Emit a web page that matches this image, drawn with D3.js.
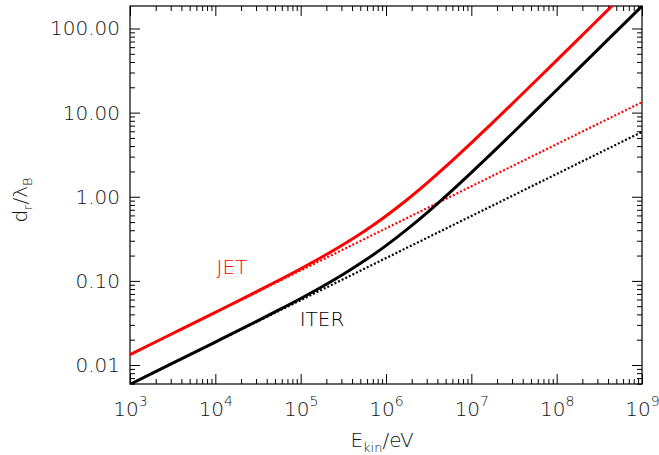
<!DOCTYPE html>
<html><head><meta charset="utf-8">
<script src="https://cdn.jsdelivr.net/npm/d3@7"></script>
<style>
html,body{margin:0;padding:0;background:#fff;}
text{font-family:"DejaVu Sans","Liberation Sans",sans-serif;font-weight:200;}
</style></head>
<body><svg id="c" width="659" height="455"></svg>
<script>
// Kinetic energy grid (eV)
const energy = [1e3, 3.162e3, 1e4, 3.162e4, 5.623e4, 1e5, 1.778e5, 3.162e5, 5.623e5, 1e6, 1.778e6, 3.162e6, 5.623e6, 1e7, 1.778e7, 3.162e7, 5.623e7, 1e8, 1.778e8, 3.162e8, 5.623e8, 1e9];
const jetSolid  = [0.01331, 0.02369, 0.04227, 0.07593, 0.1024, 0.1394, 0.1922, 0.2707, 0.3926, 0.5916, 0.9283, 1.514, 2.543, 4.368, 7.609, 13.37, 23.61, 41.82, 74.2, 131.8, 234.2, 416.3];
const iterSolid = [0.00590, 0.01051, 0.01875, 0.03368, 0.04545, 0.06182, 0.08528, 0.1200, 0.1742, 0.2624, 0.4118, 0.6713, 1.128, 1.938, 3.375, 5.929, 10.47, 18.55, 32.92, 58.46, 103.9, 184.7];
// Non-relativistic (dotted) curves
const energyDot = [1e3, 1e4, 1e5, 1e6, 1e7, 1e8, 1e9];
const jetDotted  = [0.0133, 0.0421, 0.133, 0.421, 1.33, 4.21, 13.3];
const iterDotted = [0.0059, 0.01866, 0.059, 0.1866, 0.59, 1.866, 5.9];
const xTickExp = [3, 4, 5, 6, 7, 8, 9];
const yTicks = [0.01, 0.1, 1, 10, 100];
const yTickLabels = ["0.01", "0.10", "1.00", "10.00", "100.00"];
const labels = [{text: "JET", color: "#ff0000"}, {text: "ITER", color: "#000000"}];

const L = 130, R = 642, T = 6, B = 384;
const svg = d3.select("#c");
const x = d3.scaleLog().domain([1e3, 1e9]).range([L, R]);
const y = d3.scaleLog().domain([0.00595, 185]).range([B, T]);

const xMinor = [];
for (let e = 3; e < 9; e++) for (let m = 2; m <= 9; m++) xMinor.push(m * Math.pow(10, e));
const yMinor = [];
for (let e = -3; e <= 2; e++) for (let m = 2; m <= 9; m++) { const v = m * Math.pow(10, e); if (v > 0.00595 && v < 185) yMinor.push(v); }

svg.append("defs").append("clipPath").attr("id", "clip")
  .append("rect").attr("x", L).attr("y", T).attr("width", R - L).attr("height", B - T);

function styleAxis(g) { g.select(".domain").remove(); g.selectAll("line").attr("stroke", "#000").attr("stroke-width", 1); }

// bottom
svg.append("g").attr("transform", `translate(0,${B})`)
  .call(d3.axisBottom(x).tickValues(xMinor).tickSize(-5).tickFormat(""))
  .call(styleAxis);
const bx = svg.append("g").attr("transform", `translate(0,${B})`)
  .call(d3.axisBottom(x).tickValues(xTickExp.map(e => Math.pow(10, e))).tickSize(-10).tickPadding(16).tickFormat(""))
  .call(styleAxis);
bx.selectAll(".tick text").each(function(d, i) {
  const t = d3.select(this);
  t.attr("fill", "#111").attr("font-size", 20).attr("dy", 0).attr("y", 32).attr("text-anchor", "middle");
  t.append("tspan").text("10");
  t.append("tspan").attr("dy", -10).attr("font-size", 14).text(xTickExp[i]);
});
// top
svg.append("g").attr("transform", `translate(0,${T})`)
  .call(d3.axisTop(x).tickValues(xMinor).tickSize(-5).tickFormat("")).call(styleAxis);
svg.append("g").attr("transform", `translate(0,${T})`)
  .call(d3.axisTop(x).tickValues(xTickExp.map(e => Math.pow(10, e))).tickSize(-10).tickFormat("")).call(styleAxis);
// left
svg.append("g").attr("transform", `translate(${L},0)`)
  .call(d3.axisLeft(y).tickValues(yMinor).tickSize(-5).tickFormat("")).call(styleAxis);
svg.append("g").attr("transform", `translate(${L},0)`)
  .call(d3.axisLeft(y).tickValues(yTicks).tickSize(-10).tickPadding(10).tickFormat((d, i) => yTickLabels[i]))
  .call(styleAxis)
  .call(g => g.selectAll("text").attr("fill", "#111").attr("font-size", 20));
// right
svg.append("g").attr("transform", `translate(${R},0)`)
  .call(d3.axisRight(y).tickValues(yMinor).tickSize(-5).tickFormat("")).call(styleAxis);
svg.append("g").attr("transform", `translate(${R},0)`)
  .call(d3.axisRight(y).tickValues(yTicks).tickSize(-10).tickFormat("")).call(styleAxis);

svg.selectAll("g").attr("font-family", null).attr("font-size", null);

// frame
svg.append("rect").attr("x", L).attr("y", T).attr("width", R - L).attr("height", B - T)
  .attr("fill", "none").attr("stroke", "#000").attr("stroke-width", 1.2);

const line = d3.line().x(d => x(d[0])).y(d => y(d[1])).curve(d3.curveMonotoneX);
const plot = svg.append("g").attr("clip-path", "url(#clip)");
plot.append("path").attr("d", line(energyDot.map((e, i) => [e, iterDotted[i]])))
  .attr("fill", "none").attr("stroke", "#000").attr("stroke-width", 2.2).attr("stroke-dasharray", "2,2");
plot.append("path").attr("d", line(energyDot.map((e, i) => [e, jetDotted[i]])))
  .attr("fill", "none").attr("stroke", "#ff0000").attr("stroke-width", 2.2).attr("stroke-dasharray", "2,2");
plot.append("path").attr("d", line(energy.map((e, i) => [e, iterSolid[i]])))
  .attr("fill", "none").attr("stroke", "#000").attr("stroke-width", 3);
plot.append("path").attr("d", line(energy.map((e, i) => [e, jetSolid[i]])))
  .attr("fill", "none").attr("stroke", "#ff0000").attr("stroke-width", 3);

// curve labels
svg.append("text").attr("x", 232).attr("y", 274).attr("text-anchor", "middle")
  .attr("font-size", 20).attr("fill", labels[0].color).text(labels[0].text);
svg.append("text").attr("x", 322).attr("y", 326).attr("text-anchor", "middle")
  .attr("font-size", 20).attr("fill", labels[1].color).text(labels[1].text);

// axis titles
const xt = svg.append("text").attr("x", 382).attr("y", 447).attr("text-anchor", "middle")
  .attr("font-size", 20).attr("fill", "#111");
xt.append("tspan").text("E");
xt.append("tspan").attr("dy", 5).attr("font-size", 13).text("kin");
xt.append("tspan").attr("dy", -5).text("/eV");

const yt = svg.append("text").attr("transform", "translate(27,200) rotate(-90)").attr("text-anchor", "middle")
  .attr("font-size", 20).attr("fill", "#111");
yt.append("tspan").text("d");
yt.append("tspan").attr("dy", 5).attr("font-size", 13).text("r");
yt.append("tspan").attr("dy", -5).text("/λ");
yt.append("tspan").attr("dy", 5).attr("font-size", 13).text("B");
</script></body></html>
